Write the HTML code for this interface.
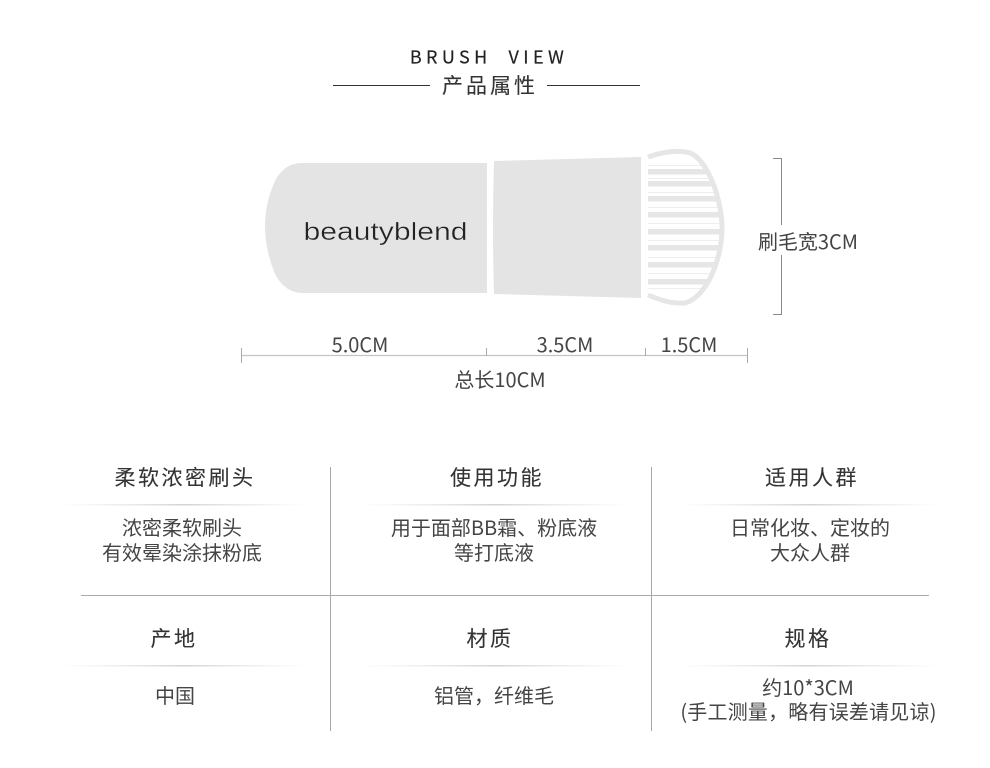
<!DOCTYPE html>
<html>
<head>
<meta charset="utf-8">
<style>
html,body{margin:0;padding:0;background:#fff;width:990px;height:768px;overflow:hidden}
svg{display:block}
text{font-family:"Liberation Sans","Noto Sans CJK SC",sans-serif;fill:#3a3a3a;text-anchor:middle}
.c{font-family:"Noto Sans CJK SC","Liberation Sans",sans-serif;font-size:20px;fill:#444}
.h{font-family:"Noto Sans CJK SC","Liberation Sans",sans-serif;font-size:21px;letter-spacing:2.500px;fill:#333;stroke:#333;stroke-width:.12px}
</style>
</head>
<body>
<svg width="990" height="768" viewBox="0 0 990 768">
<defs>
<linearGradient id="g"><stop offset="0" stop-color="#ddd" stop-opacity="0"/><stop offset=".5" stop-color="#d4d4d4"/><stop offset="1" stop-color="#ddd" stop-opacity="0"/></linearGradient>
<clipPath id="b"><path d="M648,155 C665,149 680,148 691,151 C710,158 724,200 724,228 C724,262 707,300 686,305 C672,306 660,302 648,297 Z"/></clipPath>
</defs>

<text x="489" y="63.500" style="font-family:'Noto Sans CJK SC',sans-serif;font-size:18px;letter-spacing:4.400px;fill:#222;stroke:#222;stroke-width:.2px">BRUSH&#160;&#160;VIEW</text>
<text class="h" x="490" y="93" style="letter-spacing:3px">产品属性</text>
<rect x="333" y="85" width="97" height="1" fill="#333"/>
<rect x="547" y="85" width="93" height="1" fill="#333"/>

<path d="M487,163 H302 Q284,163 275,181 Q265,203 265,225 Q265,250 275,274 Q285,293 303,293 H487 Z" fill="#e4e4e4"/>
<path d="M494,161 L641,157 V298 L494,294 Q492,228 494,161 Z" fill="#e4e4e4"/>
<text x="385.500" y="240" textLength="164" lengthAdjust="spacingAndGlyphs" style="font-size:25px;fill:#222;stroke:#e4e4e4;stroke-width:.35px">beautyblend</text>

<g clip-path="url(#b)" fill="#e6e6e6">
<rect x="648" y="169" width="80" height="5.500"/><rect x="648" y="181" width="80" height="5.500"/>
<rect x="648" y="196" width="80" height="5.500"/><rect x="648" y="212" width="80" height="5.500"/>
<rect x="648" y="229" width="80" height="5.500"/><rect x="648" y="245" width="80" height="5.500"/>
<rect x="648" y="262" width="80" height="5.500"/><rect x="648" y="279" width="80" height="5.500"/>
<g fill="#eee"><rect x="648" y="165" width="80" height="1"/><rect x="648" y="178" width="80" height="1"/><rect x="648" y="192" width="80" height="1"/><rect x="648" y="207" width="80" height="1"/><rect x="648" y="223" width="80" height="1"/><rect x="648" y="240" width="80" height="1"/><rect x="648" y="257" width="80" height="1"/><rect x="648" y="273" width="80" height="1"/><rect x="648" y="288" width="80" height="1"/></g>
</g>
<path d="M648,157 C665,151 680,150 690,153 C708,160 722,200 722,228 C722,262 705,298 685,303 C672,304 660,300 648,295" fill="none" stroke="#e6e6e6" stroke-width="5"/>

<path d="M773,158.500 H781.500 V225 M781.500,255 V314.500 H773" fill="none" stroke="#8a8a8a" stroke-width="1"/>
<text class="c" x="808" y="249">刷毛宽3CM</text>

<path d="M241,355.500 H748" stroke="#c4c4c4" stroke-width="1.200"/>
<path d="M241.500,348 V363 M747.500,348 V363 M486.500,348 V356 M645.500,348 V356" stroke="#aaa" stroke-width="1" fill="none"/>
<text class="c" x="360" y="352">5.0CM</text>
<text class="c" x="565" y="352">3.5CM</text>
<text class="c" x="689" y="352">1.5CM</text>
<text class="c" x="500" y="387">总长10CM</text>

<rect x="330" y="467" width="1" height="264" fill="#a8a8a8"/>
<rect x="651" y="467" width="1" height="264" fill="#a8a8a8"/>
<rect x="81" y="595" width="848" height="1" fill="#aaa"/>

<rect x="60" y="504" width="248" height="1.500" fill="url(#g)"/>
<rect x="360" y="504" width="270" height="1.500" fill="url(#g)"/>
<rect x="680" y="504" width="260" height="1.500" fill="url(#g)"/>
<rect x="60" y="665" width="248" height="1.500" fill="url(#g)"/>
<rect x="360" y="665" width="270" height="1.500" fill="url(#g)"/>
<rect x="680" y="665" width="260" height="1.500" fill="url(#g)"/>

<text class="h" x="185" y="485">柔软浓密刷头</text>
<text class="h" x="497" y="485">使用功能</text>
<text class="h" x="812" y="485">适用人群</text>
<text class="h" x="174" y="646">产地</text>
<text class="h" x="490" y="646">材质</text>
<text class="h" x="808" y="646">规格</text>

<text class="c" x="182" y="535">浓密柔软刷头</text>
<text class="c" x="182" y="560">有效晕染涂抹粉底</text>
<text class="c" x="494" y="535">用于面部BB霜、粉底液</text>
<text class="c" x="494" y="560">等打底液</text>
<text class="c" x="810" y="535">日常化妆、定妆的</text>
<text class="c" x="810" y="560">大众人群</text>
<text class="c" x="175" y="703">中国</text>
<text class="c" x="494" y="703">铝管，纤维毛</text>
<text class="c" x="808" y="695">约10*3CM</text>
<text class="c" x="808.500" y="719" style="letter-spacing:.2px">(手工测量，略有误差请见谅)</text>
</svg>
</body>
</html>
